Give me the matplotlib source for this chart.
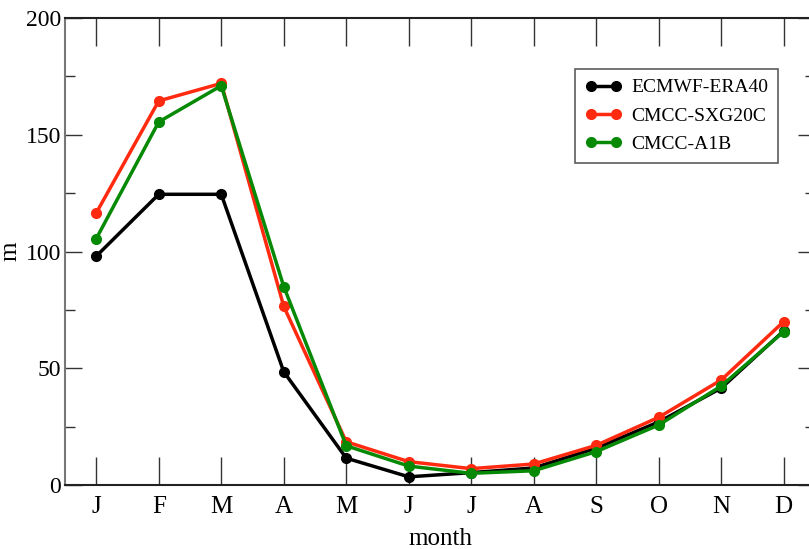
import numpy as np
import matplotlib.pyplot as plt
from matplotlib.ticker import MultipleLocator

plt.rcParams['font.family'] = ['Liberation Serif', 'DejaVu Serif']

months = ["J", "F", "M", "A", "M", "J", "J", "A", "S", "O", "N", "D"]
era40 = [98, 124.5, 124.5, 48.5, 11.5, 3.5, 5.3, 7.3, 15.8, 27, 41.5, 66]
sxg20c = [116.5, 164.5, 172, 76.5, 18.5, 10, 7, 9, 17, 29, 45, 70]
a1b = [105.5, 155.5, 171, 85, 16.8, 8.1, 5, 6.1, 14.3, 25.7, 42.4, 65.7]

x = np.arange(1, 13)

fig = plt.figure(figsize=(8.09, 5.49), dpi=100)
ax = fig.add_axes([65/809, 64/549, 750/809, 467/549])

ax.plot(x, era40, color="black", lw=2.5, marker="o", ms=7, label="ECMWF-ERA40")
ax.plot(x, sxg20c, color="#ff2a10", lw=2.5, marker="o", ms=7, label="CMCC-SXG20C")
ax.plot(x, a1b, color="#068a06", lw=2.5, marker="o", ms=7, label="CMCC-A1B")

ax.set_xlim(0.5, 12.5)
ax.set_ylim(0, 200)
ax.set_xticks(x)
ax.set_xticklabels(months)
ax.yaxis.set_major_locator(MultipleLocator(50))
ax.yaxis.set_minor_locator(MultipleLocator(25))

ax.tick_params(axis="x", direction="in", length=20, width=1, top=True,
               labelsize=18, pad=8, colors="#333333", labelcolor="black")
ax.tick_params(axis="y", which="major", direction="in", length=12, width=1,
               right=True, labelsize=17, pad=3, colors="#333333", labelcolor="black")
ax.tick_params(axis="y", which="minor", direction="in", length=7, width=1,
               right=True, colors="#333333")

ax.spines["left"].set_color("#777777")
ax.spines["left"].set_linewidth(1.5)
for s in ["top", "bottom"]:
    ax.spines[s].set_color("#222222")
    ax.spines[s].set_linewidth(1.5)

ax.set_xlabel("month", fontsize=18)
ax.xaxis.set_label_coords(0.5, -0.092)
ax.set_ylabel("m", fontsize=18)
ax.yaxis.set_label_coords(-0.058, 0.5)

leg = ax.legend(loc="upper left", bbox_to_anchor=(510/750, 1 - 51/467),
                fontsize=14, frameon=True, fancybox=False, numpoints=2,
                handlelength=1.9, handletextpad=0.5, borderpad=0.5,
                labelspacing=0.55, borderaxespad=0)
leg.get_frame().set_edgecolor("#333333")
leg.get_frame().set_linewidth(1.2)

fig.savefig("out.png", dpi=100)
